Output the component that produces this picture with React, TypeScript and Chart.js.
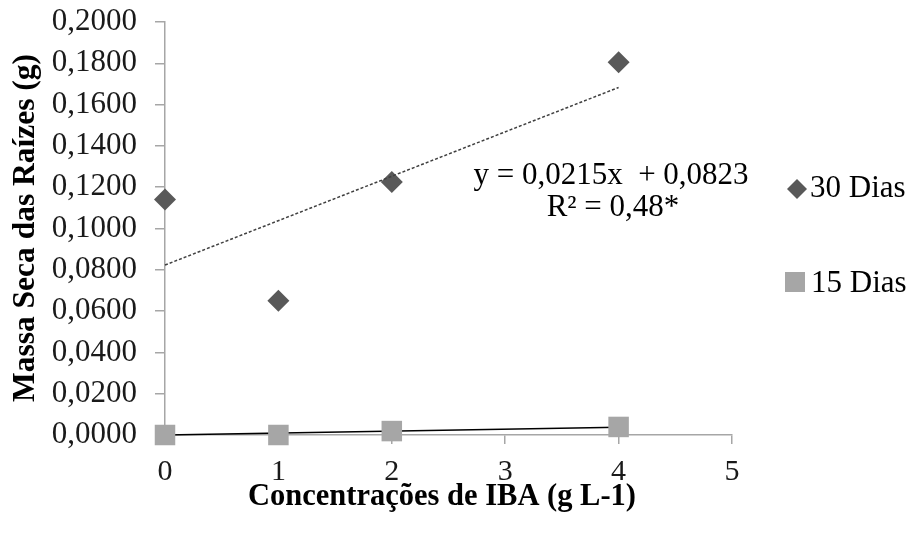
import React, { useEffect, useRef } from "react";
import { Chart, registerables } from "chart.js";

Chart.register(...registerables);

const concentrations = [0, 1, 2, 4];
const dias30 = [0.114, 0.065, 0.1225, 0.1805];
const dias15 = [0.0, 0.0, 0.0019, 0.0039];
const trend30 = { slope: 0.0215, intercept: 0.0823 };
const trend15 = { slope: 0.00107, intercept: -0.0005 };
const xTicks = [0, 1, 2, 3, 4, 5];
const yMax = 0.2;
const yStep = 0.02;
const seriesNames = ["30 Dias", "15 Dias"];
const equationLines = ["y = 0,0215x  + 0,0823", "R\u00B2 = 0,48*"];
const xTitle = "Concentrações de IBA (g L-1)";
const yTitle = "Massa Seca das Raízes (g)";

const FONT = '"Liberation Serif", "Times New Roman", serif';
const C30 = "#595959";
const C15 = "#a6a6a6";
const AXIS = "#a6a6a6";

export default function App() {
  const ref = useRef<HTMLCanvasElement | null>(null);
  useEffect(() => {
    document.body.style.margin = "0";
    const canvas = ref.current!;
    const xs0 = concentrations[0];
    const xs1 = concentrations[concentrations.length - 1];
    const overlay = {
      id: "overlay",
      afterDraw(chart: any) {
        const ctx = chart.ctx;
        ctx.save();
        ctx.fillStyle = "#000";
        ctx.textBaseline = "middle";
        // equation
        ctx.font = `31px ${FONT}`;
        ctx.textAlign = "center";
        ctx.fillText(equationLines[0], 611, 176);
        ctx.fillText(equationLines[1], 613, 208);
        // axis titles
        ctx.font = `bold 30.5px ${FONT}`;
        ctx.fillText(xTitle, 442, 497);
        ctx.save();
        ctx.translate(26, 228);
        ctx.rotate(-Math.PI / 2);
        ctx.font = `bold 31.5px ${FONT}`;
        ctx.fillText(yTitle, 0, 0);
        ctx.restore();
        // legend
        ctx.textAlign = "left";
        ctx.font = `31px ${FONT}`;
        ctx.fillStyle = C30;
        ctx.beginPath();
        ctx.moveTo(797, 179);
        ctx.lineTo(807, 189);
        ctx.lineTo(797, 199);
        ctx.lineTo(787, 189);
        ctx.closePath();
        ctx.fill();
        ctx.fillStyle = "#000";
        ctx.fillText(seriesNames[0], 810, 189);
        ctx.fillStyle = C15;
        ctx.fillRect(785, 272, 20, 20);
        ctx.fillStyle = "#000";
        ctx.fillText(seriesNames[1], 811, 284);
        ctx.restore();
      },
    };
    const chart = new Chart(canvas, {
      type: "scatter",
      data: {
        datasets: [
          {
            label: "trend30",
            type: "line",
            data: [
              { x: xs0, y: trend30.intercept + trend30.slope * xs0 },
              { x: xs1, y: trend30.intercept + trend30.slope * xs1 },
            ],
            borderColor: "#404040",
            borderWidth: 1.5,
            borderDash: [3, 2],
            pointRadius: 0,
            fill: false,
            clip: false,
          },
          {
            label: seriesNames[0],
            data: concentrations.map((x, i) => ({ x, y: dias30[i] })),
            pointStyle: "rectRot",
            pointRadius: 11,
            backgroundColor: C30,
            borderColor: C30,
            borderWidth: 0,
            clip: false,
          },
          {
            label: seriesNames[1],
            data: concentrations.map((x, i) => ({ x, y: dias15[i] })),
            pointStyle: "rect",
            pointRadius: 14.5,
            backgroundColor: C15,
            borderColor: C15,
            borderWidth: 0,
            clip: false,
          },
          {
            label: "trend15",
            type: "line",
            data: [
              { x: xs0, y: Math.max(0, trend15.intercept + trend15.slope * xs0) },
              { x: xs1, y: trend15.intercept + trend15.slope * xs1 },
            ],
            borderColor: "#000",
            borderWidth: 1.5,
            pointRadius: 0,
            fill: false,
            clip: false,
          },
        ],
      },
      options: {
        responsive: false,
        animation: false,
        devicePixelRatio: 1,
        layout: { padding: { top: 22, right: 177, left: 0, bottom: 0 } },
        plugins: { legend: { display: false }, tooltip: { enabled: false }, title: { display: false } },
        scales: {
          x: {
            type: "linear",
            min: 0,
            max: 5,
            afterBuildTicks: (s: any) => {
              s.ticks = xTicks.map((v) => ({ value: v }));
            },
            afterFit: (s: any) => {
              s.height = 99;
              s.paddingLeft = 0;
              s.paddingRight = 0;
            },
            border: { color: AXIS, width: 1.5 },
            grid: { drawOnChartArea: false, drawTicks: true, tickLength: 9, color: AXIS, lineWidth: 1.5 },
            ticks: { color: "#1a1a1a", font: { family: FONT, size: 30 }, padding: 10, autoSkip: false, maxRotation: 0 },
          },
          y: {
            type: "linear",
            min: 0,
            max: yMax,
            afterBuildTicks: (s: any) => {
              const t = [];
              for (let i = 0; i <= Math.round(yMax / yStep); i++) t.push({ value: +(i * yStep).toFixed(4) });
              s.ticks = t;
            },
            afterFit: (s: any) => {
              s.width = 165;
              s.paddingTop = 0;
              s.paddingBottom = 0;
            },
            border: { color: AXIS, width: 1.5 },
            grid: { drawOnChartArea: false, drawTicks: true, tickLength: 10, color: AXIS, lineWidth: 1.5 },
            ticks: {
              color: "#1a1a1a",
              font: { family: FONT, size: 31 },
              padding: 18,
              autoSkip: false,
              callback: (v: any) => Number(v).toFixed(4).replace(".", ","),
            },
          },
        },
      },
      plugins: [overlay],
    } as any);
    return () => chart.destroy();
  }, []);
  return (
    <div style={{ width: 909, height: 534 }}>
      <canvas ref={ref} width={909} height={534} />
    </div>
  );
}
